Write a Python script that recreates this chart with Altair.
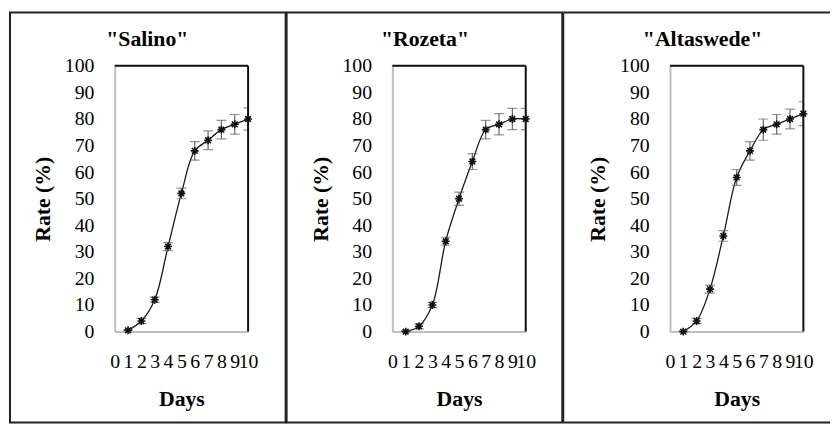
import altair as alt
import pandas as pd

days = [1, 2, 3, 4, 5, 6, 7, 8, 9, 10]

salino = [0.5, 4, 12, 32, 52, 68, 72, 76, 78, 80]
salino_err = [0.3, 1, 1, 1.5, 2, 3.5, 3.5, 3.5, 3.7, 4.2]

rozeta = [0, 2, 10, 34, 50, 64, 76, 78, 80, 80]
rozeta_err = [0.3, 1, 1, 1.5, 2.5, 3, 3.5, 4, 4, 4]

altaswede = [0, 4, 16, 36, 58, 68, 76, 78, 80, 82]
altaswede_err = [0.3, 1, 1.5, 2, 3, 3.5, 4, 3.7, 3.7, 4.5]

x_ticks = [0, 1, 2, 3, 4, 5, 6, 7, 8, 9, 10]
y_ticks = [0, 10, 20, 30, 40, 50, 60, 70, 80, 90, 100]

FONT = "'Times New Roman', 'Liberation Serif', Times, 'DejaVu Serif', serif"
W, H = 135, 269
ASTERISK = "M-1,0L1,0M0,-1L0,1M-0.72,-0.72L0.72,0.72M-0.72,0.72L0.72,-0.72"

xs = alt.Scale(domain=[0, 10], nice=False, zero=False)
ys = alt.Scale(domain=[0, 100], nice=False)

x_axis = alt.Axis(
    title="Days", values=x_ticks, format="d", ticks=False, tickSize=0,
    labelOverlap=False, labelBound=False, labelFlush=False,
    labelPadding=20, titlePadding=18, domainColor="#bfbfbf", domainWidth=2, grid=False,
)
y_axis = alt.Axis(
    title="Rate (%)", values=y_ticks, format="d", ticks=False, tickSize=0,
    labelOverlap=False, labelBound=False, labelFlush=False,
    labelPadding=21, titlePadding=10, domainColor="#bfbfbf", domainWidth=2, grid=False,
)


def panel(name, vals, errs, left, right, close_right=True):
    df = pd.DataFrame({
        "day": days,
        "rate": vals,
        "lo": [v - e for v, e in zip(vals, errs)],
        "hi": [v + e for v, e in zip(vals, errs)],
    })
    base = alt.Chart(df)
    X = alt.X("day:Q", scale=xs, axis=x_axis)

    line = base.mark_line(color="#1a1a1a", strokeWidth=1.3, interpolate="catmull-rom").encode(
        x=X, y=alt.Y("rate:Q", scale=ys, axis=y_axis)
    )
    bars = base.mark_rule(color="#666666", strokeWidth=1.2, clip=True).encode(
        x=X, y=alt.Y("lo:Q", scale=ys, axis=y_axis), y2="hi:Q"
    )
    cap_lo = base.mark_tick(color="#666666", orient="horizontal", size=10, thickness=1.2,
                            clip=True).encode(
        x=X, y=alt.Y("lo:Q", scale=ys, axis=y_axis)
    )
    cap_hi = base.mark_tick(color="#666666", orient="horizontal", size=10, thickness=1.2,
                            clip=True).encode(
        x=X, y=alt.Y("hi:Q", scale=ys, axis=y_axis)
    )
    pts = base.mark_point(shape=ASTERISK, size=64, filled=False, color="#111111",
                          strokeWidth=1.6, opacity=1).encode(
        x=X, y=alt.Y("rate:Q", scale=ys, axis=y_axis)
    )

    one = alt.Chart(pd.DataFrame({"k": [0]}))
    top_rule = one.mark_rule(color="#111111", strokeWidth=2).encode(
        x=alt.value(0), x2=alt.value(W), y=alt.value(0)
    )
    right_rule = one.mark_rule(color="#111111", strokeWidth=2).encode(
        x=alt.value(W), y=alt.value(0), y2=alt.value(H)
    )
    title = one.mark_text(
        text='"' + name + '"', font=FONT, fontSize=22, fontWeight="bold",
        color="#000000", align="center", baseline="alphabetic",
    ).encode(x=alt.value(33), y=alt.value(-20))
    layers = [line, bars, cap_lo, cap_hi, pts, top_rule, right_rule, title]

    if close_right:
        border = one.mark_rect(fillOpacity=0, stroke="#222222", strokeWidth=2).encode(
            x=alt.value(left), x2=alt.value(right), y=alt.value(-54), y2=alt.value(361)
        )
        layers.append(border)
    else:
        for enc in [
            dict(x=alt.value(left), x2=alt.value(right), y=alt.value(-54)),
            dict(x=alt.value(left), x2=alt.value(right), y=alt.value(361)),
            dict(x=alt.value(left), y=alt.value(-54), y2=alt.value(361)),
        ]:
            layers.append(one.mark_rule(color="#222222", strokeWidth=2).encode(**enc))

    return alt.layer(*layers).properties(width=W, height=H)


p1 = panel("Salino", salino, salino_err, -106, 173)
p2 = panel("Rozeta", rozeta, rozeta_err, -107, 172)
p3 = panel("Altaswede", altaswede, altaswede_err, -108, 162, close_right=False)

chart = alt.hconcat(p1, p2, p3, spacing=146, bounds="flush").properties(
    padding=0
).configure_view(stroke=None).configure(background="white").configure_axis(
    labelFont=FONT, labelFontSize=20, labelColor="#000000", labelOverlap=False,
    titleFont=FONT, titleFontSize=22, titleFontWeight="bold", titleColor="#000000",
)

chart.save("out.html", embed_options={"renderer": "svg", "actions": False})
